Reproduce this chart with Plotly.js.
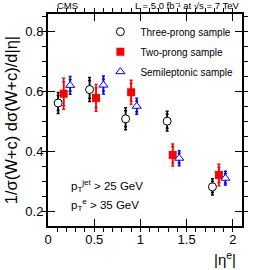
<!DOCTYPE html>
<html>
<head>
<meta charset="utf-8">
<script src="https://cdn.plot.ly/plotly-3.0.1.min.js"></script>
<style>html,body{margin:0;padding:0;background:#fff;}#chart{width:266px;height:270px;}</style>
</head>
<body>
<div id="chart"></div>
<script>
// Three-prong sample (open circles)
const threeX = [0.11, 0.45, 0.84, 1.29, 1.78];
const threeY = [0.562, 0.607, 0.509, 0.501, 0.281];
const threeTot = [0.035, 0.040, 0.037, 0.033, 0.027];
const threeStat = [0.025, 0.030, 0.027, 0.024, 0.019];
// Two-prong sample (filled red squares)
const twoX = [0.17, 0.52, 0.90, 1.35, 1.85];
const twoY = [0.593, 0.579, 0.598, 0.388, 0.321];
const twoTot = [0.052, 0.045, 0.040, 0.037, 0.036];
const twoStat = [0.040, 0.034, 0.030, 0.027, 0.026];
// Semileptonic sample (open blue triangles)
const semiX = [0.24, 0.60, 0.96, 1.42, 1.92];
const semiY = [0.621, 0.622, 0.551, 0.377, 0.310];
const semiTot = [0.030, 0.030, 0.027, 0.025, 0.023];
const semiStat = [0.020, 0.020, 0.018, 0.017, 0.016];
// Axis ticks
const xTicks = [0, 0.5, 1, 1.5, 2];
const xTickText = ['0', '0.5', '1', '1.5', '2'];
const yTicks = [0.2, 0.4, 0.6, 0.8];
const yTickText = ['0.2', '0.4', '0.6', '0.8'];

const names = ['Three-prong sample', 'Two-prong sample', 'Semileptonic sample'];
const colors = ['#000000', '#ff0000', '#0000ff'];

function errTrace(x, y, e, color, w) {
  return {x: x, y: y, type: 'scatter', mode: 'markers', showlegend: false, hoverinfo: 'skip',
    marker: {size: 1, color: 'rgba(0,0,0,0)'},
    error_y: {type: 'data', array: e, visible: true, color: color, thickness: 1.5, width: w}};
}
const traces = [
  errTrace(threeX, threeY, threeTot, colors[0], 1.5),
  errTrace(threeX, threeY, threeStat, colors[0], 1.5),
  errTrace(twoX, twoY, twoTot, colors[1], 1.5),
  errTrace(twoX, twoY, twoStat, colors[1], 1.5),
  errTrace(semiX, semiY, semiTot, colors[2], 1.5),
  errTrace(semiX, semiY, semiStat, colors[2], 1.5),
  {x: threeX, y: threeY, type: 'scatter', mode: 'markers', name: names[0], legendgroup: 'a',
   marker: {symbol: 'circle', size: 8, color: '#fff', line: {color: colors[0], width: 1}}},
  {x: twoX, y: twoY, type: 'scatter', mode: 'markers', name: names[1], legendgroup: 'b',
   marker: {symbol: 'square', size: 8, color: colors[1], line: {color: colors[1], width: 0}}},
  {x: semiX, y: semiY, type: 'scatter', mode: 'markers', name: names[2], legendgroup: 'c',
   marker: {symbol: 'triangle-up', size: 8, color: '#fff', line: {color: colors[2], width: 1}}}
];

const font = 'Liberation Sans, Arial, sans-serif';
const layout = {
  width: 266, height: 270,
  margin: {l: 48, r: 24, t: 14, b: 44},
  paper_bgcolor: '#fff', plot_bgcolor: '#fff',
  font: {family: font, color: '#000', size: 13},
  showlegend: true,
  legend: {x: 0.27, y: 0.985, xanchor: 'left', yanchor: 'top', bgcolor: 'rgba(0,0,0,0)',
    font: {family: font, size: 10, color: '#000'}, traceorder: 'grouped', tracegroupgap: 1,
    itemwidth: 30},
  xaxis: {range: [0, 2.1], showgrid: false, zeroline: false, showline: true, linecolor: '#000',
    linewidth: 2, mirror: 'ticks', ticks: 'inside', ticklen: 7, tickwidth: 1, tickcolor: '#000',
    tickmode: 'array', tickvals: xTicks, ticktext: xTickText, tickfont: {size: 13},
    minor: {dtick: 0.1, tick0: 0, ticklen: 4, tickcolor: '#000', showgrid: false}},
  yaxis: {range: [0.15, 0.86], showgrid: false, zeroline: false, showline: true, linecolor: '#000',
    linewidth: 2, mirror: 'ticks', ticks: 'inside', ticklen: 7, tickwidth: 1, tickcolor: '#000',
    tickmode: 'array', tickvals: yTicks, ticktext: yTickText, tickfont: {size: 13},
    title: {text: '1/σ(W+c) dσ(W+c)/d|η|', font: {size: 16.5}, standoff: 4},
    minor: {dtick: 0.05, tick0: 0, ticklen: 4, tickcolor: '#000', showgrid: false}},
  annotations: [
    {text: 'CMS', xref: 'paper', yref: 'paper', x: 0.04, y: 1, xanchor: 'left', yanchor: 'bottom',
     yshift: 2, showarrow: false, font: {size: 9.5}, borderpad: 0},
    {text: 'L = 5.0 fb⁻¹ at √s = 7 TeV', xref: 'paper', yref: 'paper', x: 0.99, y: 1,
     xanchor: 'right', yanchor: 'bottom', yshift: 2, showarrow: false, font: {size: 9.5}, borderpad: 0},
    {text: 'p<sub>T</sub><sup>jet</sup> > 25 GeV', xref: 'x', yref: 'y', x: 0.23, y: 0.285,
     xanchor: 'left', yanchor: 'middle', showarrow: false, font: {size: 11.5}},
    {text: 'p<sub>T</sub><sup>e</sup> > 35 GeV', xref: 'x', yref: 'y', x: 0.23, y: 0.222,
     xanchor: 'left', yanchor: 'middle', showarrow: false, font: {size: 11.5}},
    {text: '|η<sup>e</sup>|', xref: 'paper', yref: 'paper', x: 0.98, y: 0, xanchor: 'right',
     yanchor: 'middle', yshift: -32, showarrow: false, font: {size: 15}}
  ]
};
Plotly.newPlot('chart', traces, layout, {displayModeBar: false, staticPlot: true});
</script>
</body>
</html>
